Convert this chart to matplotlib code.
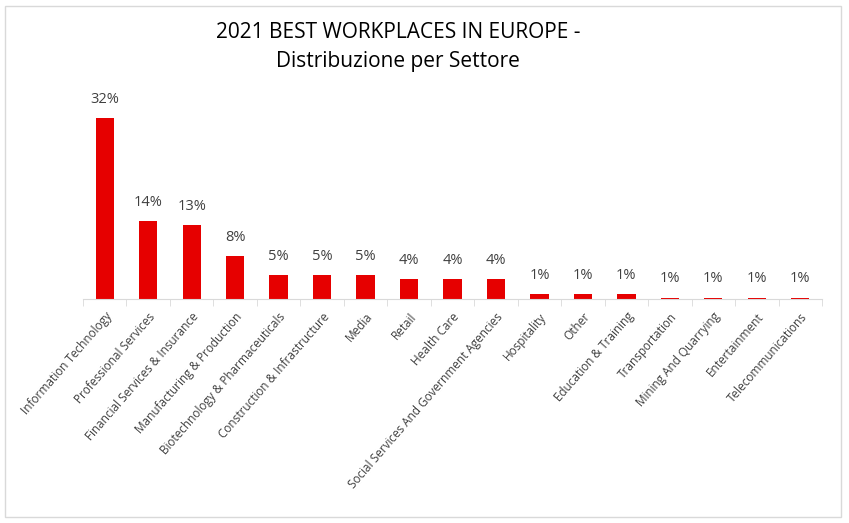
import matplotlib.pyplot as plt

settori = [
    "Information Technology", "Professional Services", "Financial Services & Insurance",
    "Manufacturing & Production", "Biotechnology & Pharmaceuticals",
    "Construction & Infrastructure", "Media", "Retail", "Health Care",
    "Social Services And Government Agencies", "Hospitality", "Other",
    "Education & Training", "Transportation", "Mining And Quarrying",
    "Entertainment", "Telecommunications",
]
quote = [32, 13.8, 13.1, 7.65, 4.3, 4.3, 4.3, 3.5, 3.5, 3.5,
         0.94, 0.94, 0.94, 0.25, 0.25, 0.25, 0.25]
etichette = ["32%", "14%", "13%", "8%", "5%", "5%", "5%", "4%", "4%", "4%",
             "1%", "1%", "1%", "1%", "1%", "1%", "1%"]

plt.rcParams["font.family"] = ["Open Sans", "DejaVu Sans"]
grigio = "#404040"

fig = plt.figure(figsize=(8.49, 5.23), dpi=100)
ax = fig.add_axes([83 / 849, 1 - 299 / 523, (822 - 83) / 849, (299 - 100.7) / 523])

x = range(len(settori))
bars = ax.bar(x, quote, width=0.42, color="#e60000")
for b, lab in zip(bars, etichette):
    ax.annotate(lab, (b.get_x() + b.get_width() / 2, b.get_height()),
                xytext=(0, 8), textcoords="offset points", ha="center", va="bottom",
                fontsize=10.5, color=grigio, annotation_clip=False)

ax.set_xlim(-0.5, len(settori) - 0.5)
ax.set_ylim(0, 35)
ax.set_yticks([])
for s in ["top", "right", "left"]:
    ax.spines[s].set_visible(False)
ax.spines["bottom"].set_color("#d9d9d9")

ax.set_xticks(list(x))
ax.set_xticklabels(settori, rotation=49, ha="right", rotation_mode="anchor",
                   fontsize=8.5, color=grigio)
ax.tick_params(axis="x", which="major", length=0, pad=8)
ax.set_xticks([i - 0.5 for i in range(len(settori) + 1)], minor=True)
ax.tick_params(axis="x", which="minor", length=5, color="#d9d9d9")

fig.text(398 / 849, 1 - 32 / 523, "2021 BEST WORKPLACES IN EUROPE -", ha="center",
         va="center", fontsize=15, color="black")
fig.text(398 / 849, 1 - 61 / 523, "Distribuzione per Settore", ha="center",
         va="center", fontsize=15, color="black")

bordo = plt.Rectangle((5 / 849, 6 / 523), 836 / 849, 511 / 523, transform=fig.transFigure,
                      fill=False, edgecolor="#d9d9d9", linewidth=1)
fig.patches.append(bordo)

fig.savefig("out.png", dpi=100)
